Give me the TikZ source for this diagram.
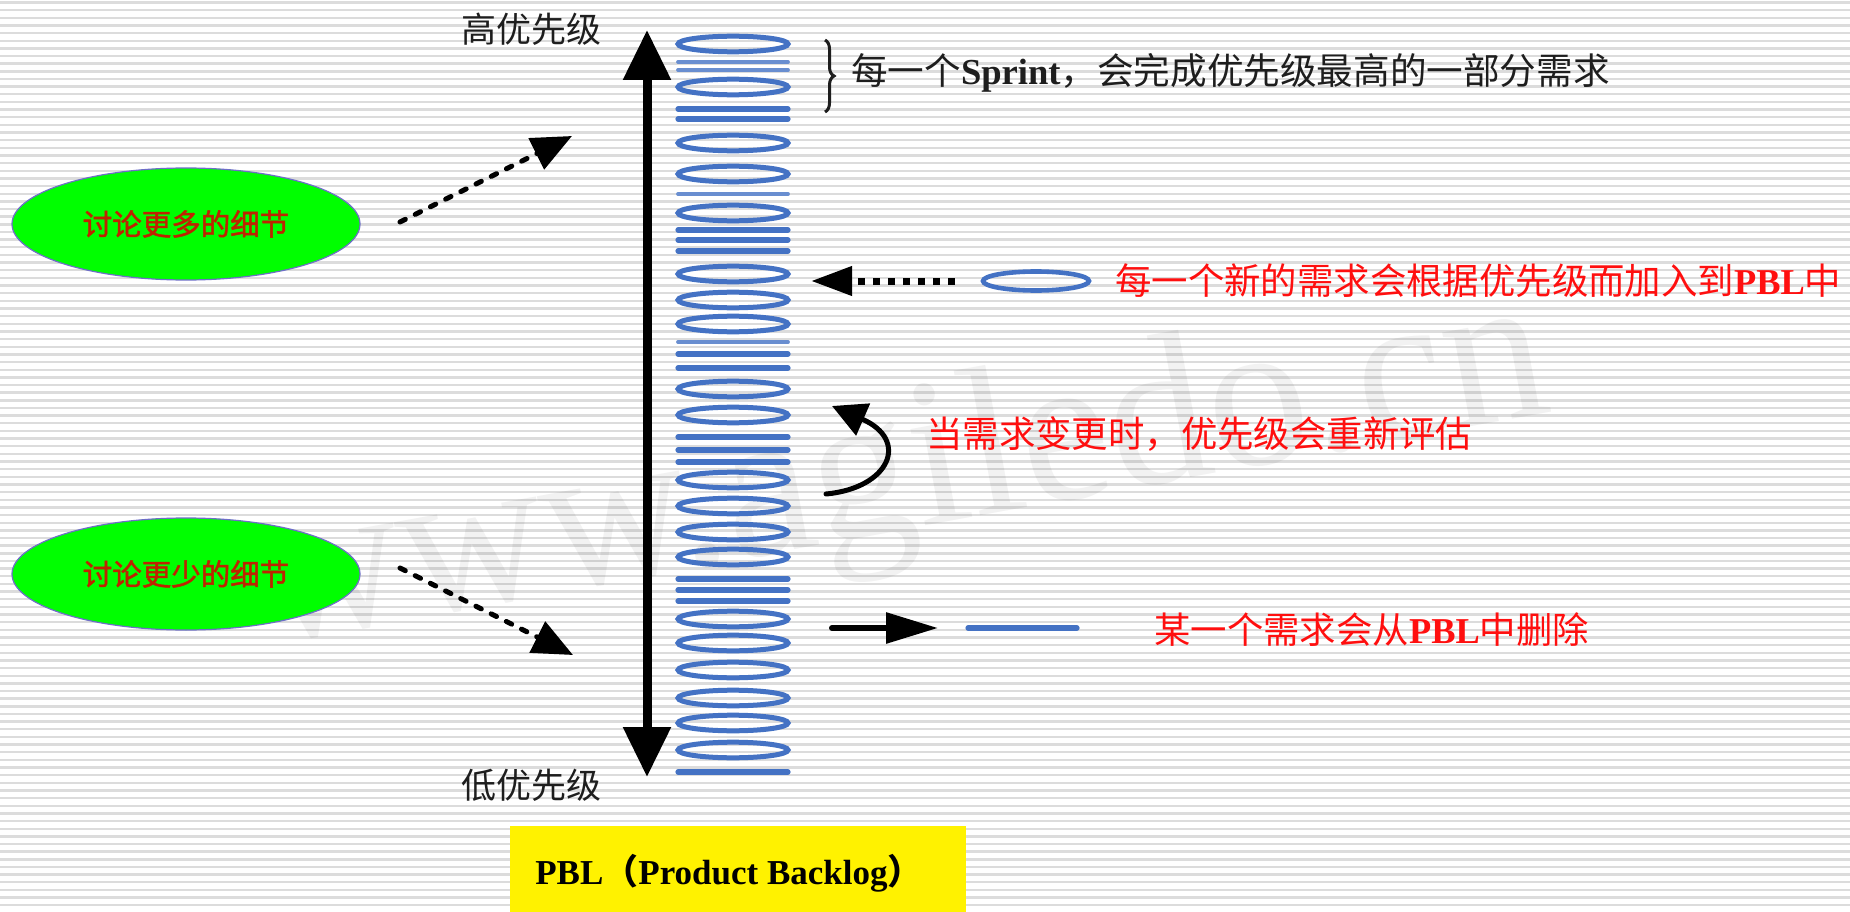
\documentclass[tikz,border=0pt]{standalone}
\usepackage{fontspec}
\setmainfont{Liberation Serif}
\newfontfamily\cjk{Noto Sans CJK SC}
\newfontfamily\cjkheavy[FakeBold=1.6]{Noto Sans CJK SC}
\usetikzlibrary{arrows.meta,decorations.pathreplacing,shapes.geometric}
\definecolor{pblue}{RGB}{68,114,196}
\definecolor{tred}{RGB}{255,15,15}
\definecolor{bred}{RGB}{190,35,0}
\definecolor{ggreen}{RGB}{0,255,0}
\definecolor{gedge}{RGB}{110,110,200}
\definecolor{stripecol}{RGB}{220,220,220}
\definecolor{ink}{RGB}{30,30,30}
\begin{document}
\begin{tikzpicture}[x=1pt,y=-1pt,
  stripeline/.style={stripecol, line width=2.4pt},
  item/.style={pblue, line width=5pt},
  bar/.style={pblue, line width=5.2pt, line cap=round},
  thinbar/.style={pblue!80, line width=3.8pt, line cap=round},
  lbl/.style={font=\cjk\fontsize{35}{40}\selectfont, text=ink, inner sep=0pt},
  redtext/.style={font=\fontsize{36.4}{40}\selectfont, text=tred, inner sep=0pt, anchor=west},
  greennode/.style={ellipse, fill=ggreen, draw=gedge, line width=1.2pt, minimum width=348pt, minimum height=112pt, inner sep=0pt, font=\cjkheavy\fontsize{29.5}{32}\selectfont, text=bred},
  dasharrow/.style={line width=5pt, dash pattern=on 6pt off 11pt, line cap=round, -{Triangle[length=40pt,width=34pt]}},
  dotarrow/.style={line width=7pt, dash pattern=on 7pt off 8pt, -{Triangle[length=41pt,width=28pt]}},
  solidarrow/.style={line width=6pt, line cap=round, -{Triangle[length=52pt,width=30pt]}},
]
\useasboundingbox (0,0) rectangle (1850,912);
\fill[white] (0,0) rectangle (1850,912);
\foreach \i in {0,...,119} {
  \draw[stripeline] (0,{2.5+\i*7.65}) -- (1850,{2.5+\i*7.65});
}
% watermark
\node[rotate=10.3, xscale=0.95, anchor=base west, font=\fontsize{212}{212}\selectfont, text=black, text opacity=0.05, inner sep=0pt] (wm) at (268,645) {www.agiledo.cn};

% priority arrow
\coordinate (hi) at (647,30);
\coordinate (lo) at (647,777);
\draw[line width=9pt, {Triangle[length=50pt,width=46pt]}-{Triangle[length=50pt,width=46pt]}] (hi) -- (lo);
\node[lbl] (hil) at (531,29) {高优先级};
\node[lbl] (lol) at (531,785) {低优先级};

% backlog column
\node[minimum width=116pt, minimum height=745pt, inner sep=0pt] (pbl) at (733,405) {};
\foreach \y in {44,87,143,174,213,274,300,324,389,415,480,506,532,557,619,643,670,698,723,750} {
  \draw[item] (733,\y) ellipse [x radius=55, y radius=7.8];
}
\foreach \y in {62,70,194,342} {
  \draw[thinbar] (678,\y) -- (788,\y);
}
\foreach \y in {109,119,230,240,251,354,368,437,450,462,579,590,601,772} {
  \draw[bar] (678,\y) -- (788,\y);
}

% brace and sprint text
\coordinate (b0) at (825,40);
\coordinate (b1) at (825,112);
\draw[ink, line width=3pt, decorate, decoration={brace, amplitude=9pt}] (b0) -- (b1);
\node[anchor=west, inner sep=0pt, text=ink, font=\fontsize{36.6}{40}\selectfont] (sprint) at (851,73)
  {{\cjk 每一个}\textbf{Sprint}{\cjk ，会完成优先级最高的一部分需求}};

% green ellipses
\node[greennode] (more) at (186,224) {讨论更多的细节};
\node[greennode] (less) at (186,574) {讨论更少的细节};
\coordinate (ms) at (400,222);
\coordinate (mt) at (572,136);
\coordinate (ls) at (400,568);
\coordinate (lt) at (573,655);
\draw[dasharrow] (ms) -- (mt);
\draw[dasharrow] (ls) -- (lt);

% new requirement
\node[ellipse, draw=pblue, line width=4.6pt, minimum width=106pt, minimum height=19pt, inner sep=0pt] (newreq) at (1036,281) {};
\coordinate (addtip) at (811,281);
\draw[dotarrow] ([xshift=-26pt]newreq.west) -- (addtip);
\node[redtext] (addtxt) at (1115,281) {{\cjk 每一个新的需求会根据优先级而加入到}\textbf{PBL}{\cjk 中}};

% re-evaluate
\coordinate (c0) at (826,494);
\coordinate (c1) at (832,406);
\draw[line width=5pt, line cap=round, -{Triangle[length=34pt,width=34pt]}] (c0) .. controls (890,488) and (910,440) .. (c1);
\node[redtext] (chgtxt) at (926,434) {\cjk 当需求变更时，优先级会重新评估};

% delete
\coordinate (d0) at (832,628);
\coordinate (d1) at (938,628);
\draw[solidarrow] (d0) -- (d1);
\coordinate (r0) at (968,628);
\coordinate (r1) at (1077,628);
\draw[bar] (r0) -- (r1);
\node[redtext] (deltxt) at (1154,630) {{\cjk 某一个需求会从}\textbf{PBL}{\cjk 中删除}};

% title box
\node[fill=yellow, minimum width=456pt, minimum height=86pt, anchor=north west, inner sep=0pt] (box) at (510,826) {};
\node[inner sep=0pt, font=\fontsize{35}{40}\selectfont\bfseries] (boxl) at (729,873) {PBL{\cjk （}Product Backlog{\cjk ）}};
\end{tikzpicture}
\end{document}
